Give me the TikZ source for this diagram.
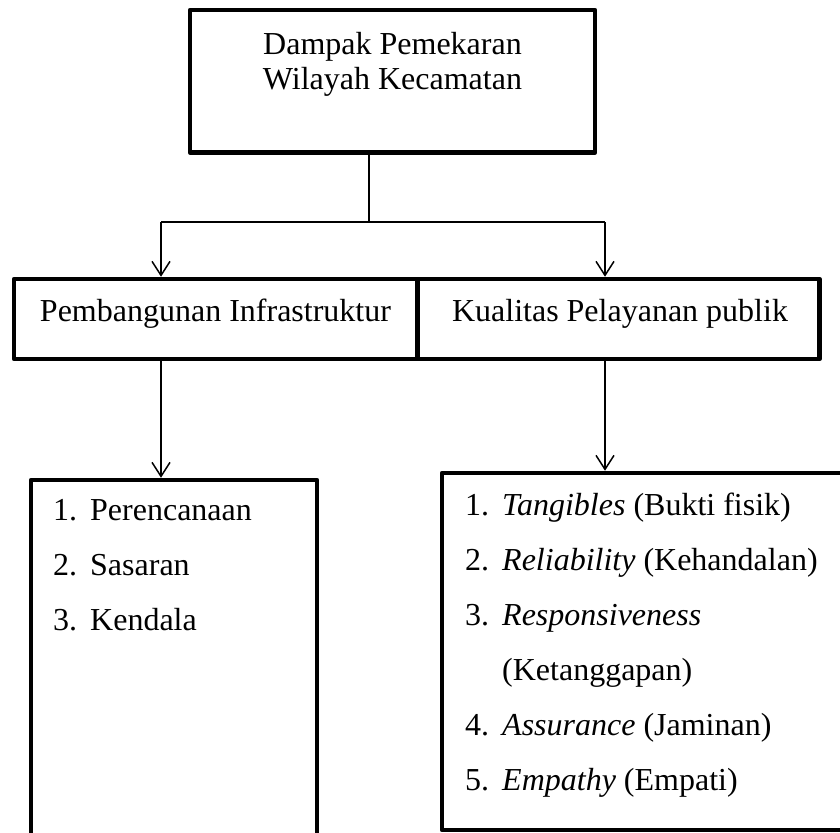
\documentclass[tikz,border=0pt]{standalone}
\usepackage{fontspec}
\setmainfont{Liberation Serif}
\usetikzlibrary{arrows.meta}
\begin{document}
\begin{tikzpicture}[x=1pt,y=-1pt,
  box/.style={draw, line width=4.5pt, line join=round, inner sep=0pt},
  conn/.style={line width=1.5pt},
  arr/.style={conn, -{Straight Barb[length=14pt,width=18pt,line width=1.5pt]}},
  lbl/.style={font=\fontsize{32}{35}\selectfont, inner sep=0pt, anchor=base},
  item/.style={font=\fontsize{32}{35}\selectfont, inner sep=0pt, anchor=base west},
]
\useasboundingbox (0,0) rectangle (840,832);
\begin{scope}
\clip (0,0) rectangle (840,832);
% boxes
\node[box, minimum width=405pt, minimum height=142.5pt] (top) at (392.5,81.25) {};
\node[box, minimum width=403.5pt, minimum height=80pt] (mL) at (215.75,319) {};
\node[box, minimum width=402pt, minimum height=80pt] (mR) at (618.5,319) {};
\node[box, minimum width=286pt, minimum height=380pt] (bL) at (174,670) {};
\node[box, minimum width=418pt, minimum height=357pt] (bR) at (651,651.5) {};
\end{scope}
% top text
\node[lbl] (t1) at (392.5,55) {Dampak Pemekaran};
\node[lbl] (t2) at (392.5,90) {Wilayah Kecamatan};
% middle text
\node[lbl] (mLt) at (215.5,321) {Pembangunan Infrastruktur};
\node[lbl] (mRt) at (620,321) {Kualitas Pelayanan publik};
% left list
\node[item] (l1) at (53,520) {\makebox[37pt][l]{1.}Perencanaan};
\node[item] (l2) at (53,575) {\makebox[37pt][l]{2.}Sasaran};
\node[item] (l3) at (53,630) {\makebox[37pt][l]{3.}Kendala};
% right list
\node[item] (r1) at (465,515) {\makebox[37pt][l]{1.}\textit{Tangibles} (Bukti fisik)};
\node[item] (r2) at (465,570) {\makebox[37pt][l]{2.}\textit{Reliability} (Kehandalan)};
\node[item] (r3) at (465,625) {\makebox[37pt][l]{3.}\textit{Responsiveness}};
\node[item] (r4) at (465,680) {\makebox[37pt][l]{}(Ketanggapan)};
\node[item] (r5) at (465,735) {\makebox[37pt][l]{4.}\textit{Assurance} (Jaminan)};
\node[item] (r6) at (465,790) {\makebox[37pt][l]{5.}\textit{Empathy} (Empati)};
% connectors
\coordinate (j) at (369,222);
\coordinate (jl) at (161,222);
\coordinate (jr) at (605,222);
\draw[conn] (top.south -| j) -- (j);
\draw[conn] (jl) -- (jr);
\draw[arr] (jl) -- (jl |- mL.north);
\draw[arr] (jr) -- (jr |- mR.north);
\draw[arr] (mL.south -| jl) -- (jl |- bL.north);
\draw[arr] (mR.south -| jr) -- (jr |- bR.north);
\end{tikzpicture}
\end{document}
